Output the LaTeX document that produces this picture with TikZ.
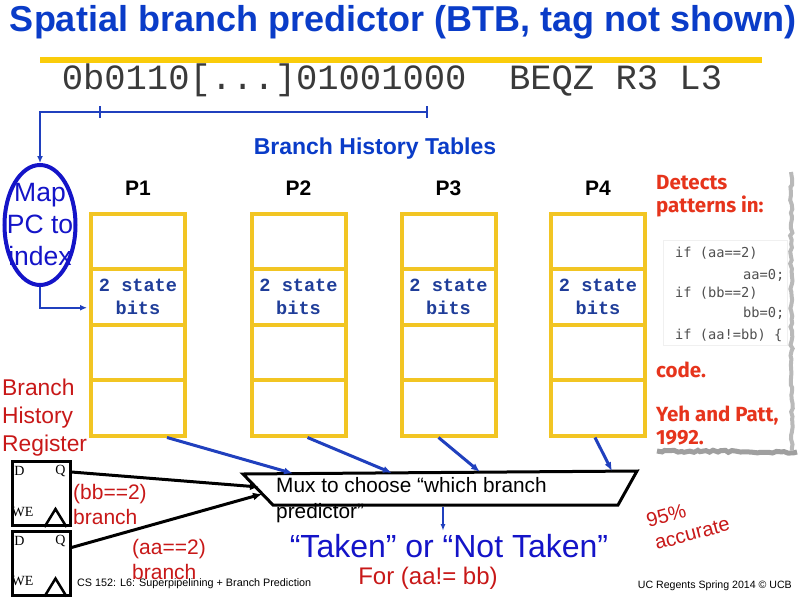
\documentclass[tikz,border=0pt]{standalone}
\usepackage{fontspec}
\setmainfont{Liberation Sans}
\newfontfamily\monofont{Liberation Mono}
\newfontfamily\serifont{Liberation Serif}
\newfontfamily\codefont{DejaVu Sans Mono}
\newfontfamily\handfont{Fira Sans}
\usepackage{xcolor}
\usepackage{tikz}
\usetikzlibrary{positioning,arrows.meta,shapes.geometric,calc,decorations.pathmorphing}
\definecolor{bptitle}{HTML}{0A3CC8}
\definecolor{bpmap}{HTML}{1414C8}
\definecolor{bprule}{HTML}{FACC0A}
\definecolor{bpcell}{HTML}{F2C523}
\definecolor{bparrow}{HTML}{2040BE}
\definecolor{bpbits}{HTML}{1F3D99}
\definecolor{bpred}{HTML}{C81818}
\definecolor{bphand}{HTML}{E6341C}
\definecolor{bpcode}{HTML}{505050}
\definecolor{bpmono}{HTML}{3A3A3A}

\begin{document}
\begin{tikzpicture}[
  x=1pt,y=-1pt,
  cell/.style={draw=bpcell,line width=4pt,minimum width=94pt,minimum height=55.5pt,inner sep=0},
  plabel/.style={font=\bfseries\fontsize{21}{24}\selectfont,inner sep=0},
  bits/.style={font=\monofont\bfseries\fontsize{18.6}{23}\selectfont,text=bpbits,align=center,inner sep=0},
  redtxt/.style={text=bpred,align=left,anchor=west,inner sep=0,font=\fontsize{21}{25}\selectfont},
  pcline/.style={draw=bparrow,line width=2.5pt},
  barrow/.style={draw=bparrow,line width=3pt,-{Latex[length=9pt,width=7pt]}},
  karrow/.style={draw=black,line width=3pt,-{Latex[length=9pt,width=8pt]}},
  ffbox/.style={draw,line width=3pt,minimum width=58pt,minimum height=64pt,inner sep=0},
  ffpin/.style={font=\serifont\fontsize{14}{14}\selectfont,inner sep=0},
  codeln/.style={font=\codefont\fontsize{13.7}{16}\selectfont,text=bpcode,anchor=west,inner sep=0},
  hand/.style={font=\handfont\bfseries\fontsize{20.5}{23}\selectfont,text=bphand,align=left,anchor=west,inner sep=0},
  edge/.style={line width=4pt,decorate,decoration={random steps,segment length=4pt,amplitude=1.2pt}}
]
\fill[white] (0,0) rectangle (800,600);
\useasboundingbox (0,0) rectangle (800,600);

% title and instruction word
\node[font=\bfseries\fontsize{36}{40}\selectfont,text=bptitle] (ttl) at (403,22) {Spatial branch predictor (BTB, tag not shown)};
\draw[bprule,line width=6pt] (40,60) -- (762,60);
\node[font=\monofont\fontsize{35.5}{36}\selectfont,text=bpmono] (pc) at (392,80) {0b0110[...]01001000\ \ BEQZ R3 L3};
\coordinate (pcR) at (427,112);
\coordinate (pcL) at (100,112);

% index mapping
\node[ellipse,draw=bpmap,line width=4pt,minimum width=71pt,minimum height=120pt,inner sep=0] (map) at (40,225) {};
\node[text=bpmap,align=center,font=\fontsize{26.5}{32}\selectfont,inner sep=0] (maptxt) at (map.center) {Map\\PC to\\index};
\draw[pcline] ($(pcR)+(0,-6)$) -- ($(pcR)+(0,6)$);
\draw[pcline] ($(pcL)+(0,-6)$) -- ($(pcL)+(0,6)$);
\draw[pcline,-{Latex[length=7pt,width=6pt]}] (pcR) -| (map.north);

% branch history tables
\node[font=\bfseries\fontsize{23}{24}\selectfont,text=bptitle] (bht) at (375,149) {Branch History Tables};
\foreach \k/\cx in {1/138,2/298.5,3/448.5,4/598}{
  \foreach \r in {1,...,4}
    \node[cell] (p\k r\r) at (\cx,{241.25+55.5*(\r-1)}) {};
  \node[plabel] (pl\k) at (\cx,188) {P\k};
  \node[bits] (bits\k) at (p\k r2) {2 state\\bits};
}
\draw[pcline,-{Latex[length=7pt,width=6pt]}] (map.south) |- ($(p1r2.west)+(-2,11)$);

% mux
\coordinate (muxTL) at (243,474);
\coordinate (muxTR) at (637,471);
\coordinate (muxBR) at (618,505);
\coordinate (muxBL) at (273,505);
\draw[line width=3pt] (muxTL) -- (muxTR) -- (muxBR) -- (muxBL) -- (muxTL) -- cycle;
\node[anchor=west,align=left,inner sep=0,font=\fontsize{20.8}{26}\selectfont] (muxtxt) at (276,500) {Mux to choose “which branch\\predictor”};
\coordinate (mx1) at (293,473.5);
\coordinate (mx2) at (392,473);
\coordinate (mx3) at (480,472);
\coordinate (mx4) at (612,471.2);
\foreach \k/\dx in {1/29,2/9,3/-10,4/-3}
  \draw[barrow] ($(p\k r4.south)+(\dx,0)$) -- (mx\k);

% branch history register
\node[redtxt,font=\fontsize{22.8}{28}\selectfont] (bhr) at (2,418) {Branch\\History\\Register};
\node[ffbox] (ff1) at (41,493.5) {};
\node[ffbox] (ff2) at (41,563) {};
\foreach \f in {ff1,ff2}{
  \node[ffpin] at ($(\f.north west)+(9,11)$) {D};
  \node[ffpin] at ($(\f.north east)+(-11,11)$) {Q};
  \node[ffpin] at ($(\f.south west)+(12,-15)$) {WE};
  \draw[line width=2.5pt] ($(\f.south east)+(-27,0)$) -- ++(11,-18) -- ++(11,18);
}
\coordinate (mxq1) at (259,487);
\coordinate (mxq2) at (262,494);
\draw[karrow] ($(ff1.north east)+(0,12)$) -- (mxq1);
\draw[karrow] ($(ff2.north east)+(0,18)$) -- (mxq2);
\node[redtxt] (bbt) at (73,504.5) {(bb==2)\\branch};
\node[redtxt] (aat) at (132,559.5) {(aa==2)\\branch};

% prediction
\coordinate (muxout) at (443,507);
\coordinate (takenin) at (443,531);
\draw[draw=bparrow,line width=1.8pt,-{Latex[length=7pt,width=5pt]}] (muxout) -- (takenin);
\node[text=bpmap,font=\fontsize{32}{34}\selectfont,inner sep=0] (taken) at (449,546) {“Taken” or “Not Taken”};
\node[text=bpred,font=\fontsize{24}{26}\selectfont,inner sep=0] (forab) at (428,578) {For (aa!= bb)};
\node[text=bpred,rotate=15,align=left,font=\fontsize{20}{24}\selectfont,inner sep=0] (acc) at (688,522) {95\%\\\hspace*{2pt}accurate};

% clipping: Yeh and Patt
\draw[gray!12,line width=0.8pt] (663,240) rectangle (787,345);
\node[hand] (det) at (656,196.5) {Detects\\patterns in:};
\node[codeln] (cd1) at (675,253) {if (aa==2)};
\node[codeln] (cd2) at (743,275) {aa=0;};
\node[codeln] (cd3) at (675,293) {if (bb==2)};
\node[codeln] (cd4) at (743,313) {bb=0;};
\node[codeln] (cd5) at (675,335) {if (aa!=bb) \{};
\node[hand] (cod) at (656,370) {code.};
\node[hand] (yeh) at (656,425) {Yeh and Patt,\\1992.};
\draw[edge,gray!55] (791,172) -- (792,450);
\draw[edge,gray!75,line width=5pt] (657,451) -- (797,452);

% footer
\node[anchor=west,inner sep=0,font=\fontsize{10.8}{12}\selectfont] (foot) at (77,584) {CS 152: L6: Superpipelining + Branch Prediction};
\node[anchor=east,inner sep=0,font=\fontsize{10.6}{12}\selectfont] (ucb) at (792,586) {UC Regents Spring 2014 © UCB};
\end{tikzpicture}
\end{document}
